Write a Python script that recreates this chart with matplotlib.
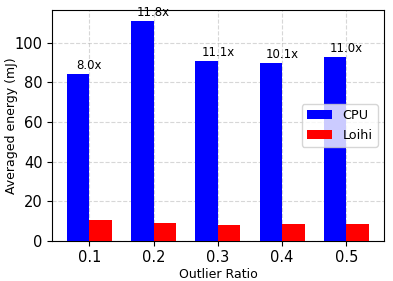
import numpy as np
import matplotlib

matplotlib.use("Agg")
import matplotlib.pyplot as plt

ratios = ["0.1", "0.2", "0.3", "0.4", "0.5"]
cpu_energy = [84.1, 110.8, 91.0, 89.7, 93.0]
loihi_energy = [10.4, 9.3, 8.0, 8.8, 8.4]
speedup_labels = ["8.0x", "11.8x", "11.1x", "10.1x", "11.0x"]

fig, ax = plt.subplots(figsize=(3.93, 2.81), dpi=100)
fig.subplots_adjust(left=0.132, right=0.977, top=0.964, bottom=0.142)

x = np.arange(len(ratios))
width = 0.35

ax.bar(x - width / 2, cpu_energy, width, color="blue", label="CPU", zorder=3)
ax.bar(x + width / 2, loihi_energy, width, color="red", label="Loihi", zorder=3)

# speedup text above each group
for xi, h, s in zip(x, cpu_energy, speedup_labels):
    ax.text(xi, h + 1, s, ha="center", va="bottom", fontsize=8.5)

ax.set_xticks(x)
ax.set_xticklabels(ratios)
ax.set_ylim(0, 116.4)
ax.tick_params(labelsize=10.5, pad=3)
ax.set_xlabel("Outlier Ratio", fontsize=9, labelpad=2)
ax.set_ylabel("Averaged energy (mJ)", fontsize=9)
ax.yaxis.set_label_coords(-0.102, 0.5)
ax.grid(True, linestyle="--", alpha=0.5, zorder=0)
ax.legend(loc="center right", fontsize=9.2, handlelength=2.0)

plt.savefig("out.png", dpi=100)
plt.close()
